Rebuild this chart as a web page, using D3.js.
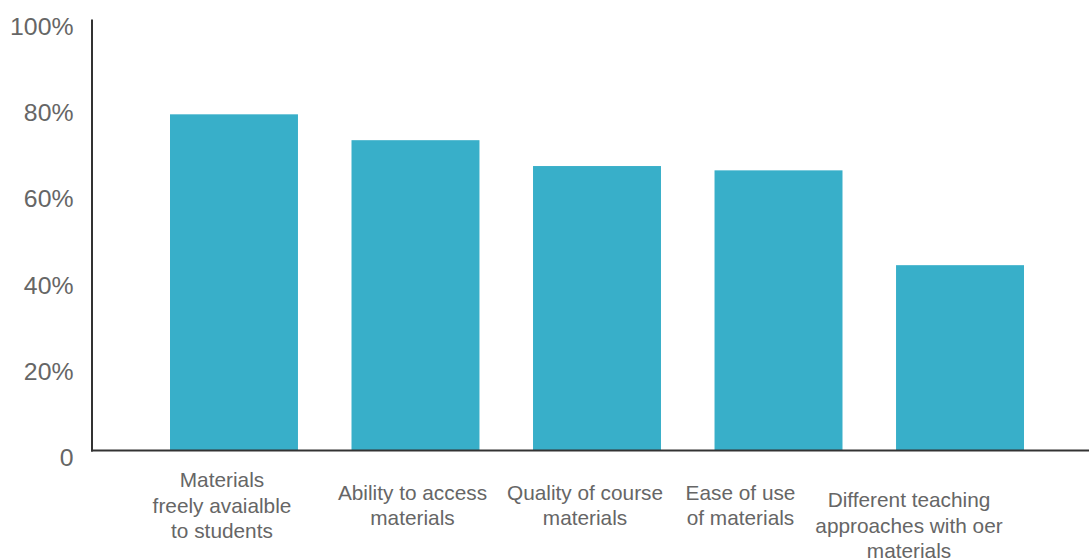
<!DOCTYPE html>
<html>
<head>
<meta charset="utf-8">
<script src="https://cdn.jsdelivr.net/npm/d3@7"></script>
<style>
  html, body { margin: 0; padding: 0; background: #fff; }
  svg { display: block; }
  text { font-family: "Liberation Sans", Arial, Helvetica, sans-serif; fill: #666; }
</style>
</head>
<body>
<svg id="chart" width="1089" height="558"></svg>
<script>
// ---- data ----
const categories = [
  ["Materials", "freely avaialble", "to students"],
  ["Ability to access", "materials"],
  ["Quality of course", "materials"],
  ["Ease of use", "of materials"],
  ["Different teaching", "approaches with oer", "materials"]
];
const values = [78, 72, 66, 65, 43];
const tickValues = [0, 20, 40, 60, 80, 100];
const tickLabels = ["0", "20%", "40%", "60%", "80%", "100%"];

// ---- layout ----
const svg = d3.select("#chart");
const W = 1089, H = 558;
const axisX = 92;
const keys = categories.map((c, i) => i);

const x = d3.scaleBand().domain(keys).range([170, 1024]).paddingInner(0.295).paddingOuter(0);
const y = d3.scaleLinear().domain([0, 100]).range([450.5, 19.5]);

// bars
svg.append("g").selectAll("rect").data(values).join("rect")
  .attr("x", (d, i) => x(i))
  .attr("y", d => y(d))
  .attr("width", x.bandwidth())
  .attr("height", d => y(0) - y(d))
  .attr("fill", "#38afc9");

// y axis line
svg.append("line")
  .attr("x1", axisX).attr("x2", axisX)
  .attr("y1", y(100)).attr("y2", y(0) + 1)
  .attr("stroke", "#333").attr("stroke-width", 2);
// baseline
svg.append("line")
  .attr("x1", axisX - 1).attr("x2", W)
  .attr("y1", y(0)).attr("y2", y(0))
  .attr("stroke", "#333").attr("stroke-width", 2);

// y tick labels
svg.append("g").selectAll("text").data(tickValues).join("text")
  .attr("x", 73.5)
  .attr("y", d => y(d) + 15.5)
  .attr("text-anchor", "end")
  .attr("font-size", 24.8)
  .text((d, i) => tickLabels[i]);

// category labels
const labelShift = [-12, -3, -12, -38, -51];
const labelDrop = [0, 0, 0, 0, 20];
const lh = 25.5;
const g = svg.append("g");
categories.forEach((lines, i) => {
  const cx = x(i) + x.bandwidth() / 2 + labelShift[i];
  const first = 512.5 - (lines.length - 1) / 2 * lh + labelDrop[i];
  const t = g.append("text")
    .attr("text-anchor", "middle")
    .attr("font-size", 20.8);
  lines.forEach((ln, j) => {
    t.append("tspan").attr("x", cx).attr("y", first + j * lh).text(ln);
  });
});
</script>
</body>
</html>
